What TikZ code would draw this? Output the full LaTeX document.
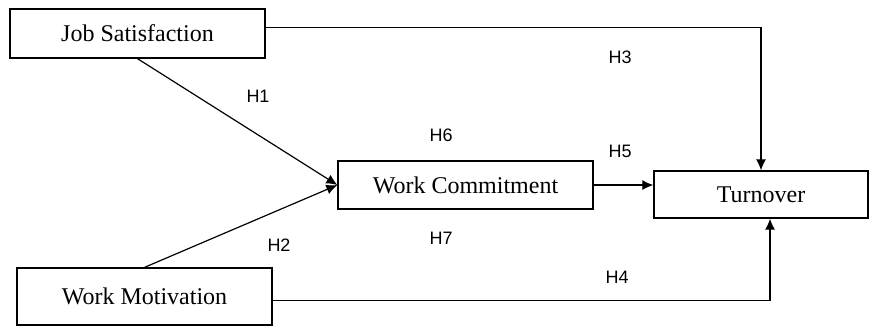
\documentclass[tikz,border=0pt]{standalone}
\usepackage{fontspec}
\setmainfont{Liberation Serif}
\newfontfamily\hypfont{Liberation Sans}
\usetikzlibrary{arrows.meta}
\tikzset{
  varbox/.style={draw=black, line width=0.65pt, fill=white, inner sep=0pt, minimum width=127.5pt, align=center, font=\fontsize{12}{14}\selectfont},
  hyplabel/.style={inner sep=0pt, font=\hypfont\fontsize{9}{10}\selectfont},
  path/.style={draw=black, line width=0.6pt, -{Latex[length=5.5pt,width=5pt]}}
}

\begin{document}
\begin{tikzpicture}[x=0.5pt, y=-0.5pt]
\useasboundingbox (0,0) rectangle (870,329);

% variables
\node[varbox, minimum height=24.5pt] (JS) at (137.5,33.5) {Job Satisfaction};
\node[varbox, minimum height=28.5pt] (WM) at (144.5,296.5) {Work Motivation};
\node[varbox, minimum height=24pt] (WC) at (465.5,185) {Work Commitment};
\node[varbox, minimum width=107pt, minimum height=23.5pt] (TO) at (761,194.5) {Turnover};

% hypotheses
\draw[path] (JS.south) -- (WC.west);
\draw[path] (WM.north) -- (WC.west);
\draw[path] ([yshift=3pt]JS.east) -| (TO.north);
\draw[path] (WC.east) -- (WC.east -| TO.west);
\draw[path] ([yshift=-2pt]WM.east) -| ([xshift=4.5pt]TO.south);

\node[hyplabel] (h1) at (258,96) {H1};
\node[hyplabel] (h2) at (279,245) {H2};
\node[hyplabel] (h3) at (620,57) {H3};
\node[hyplabel] (h4) at (617,277) {H4};
\node[hyplabel] (h5) at (620,151) {H5};
\node[hyplabel] (h6) at (441,135) {H6};
\node[hyplabel] (h7) at (441,238) {H7};
\end{tikzpicture}
\end{document}
